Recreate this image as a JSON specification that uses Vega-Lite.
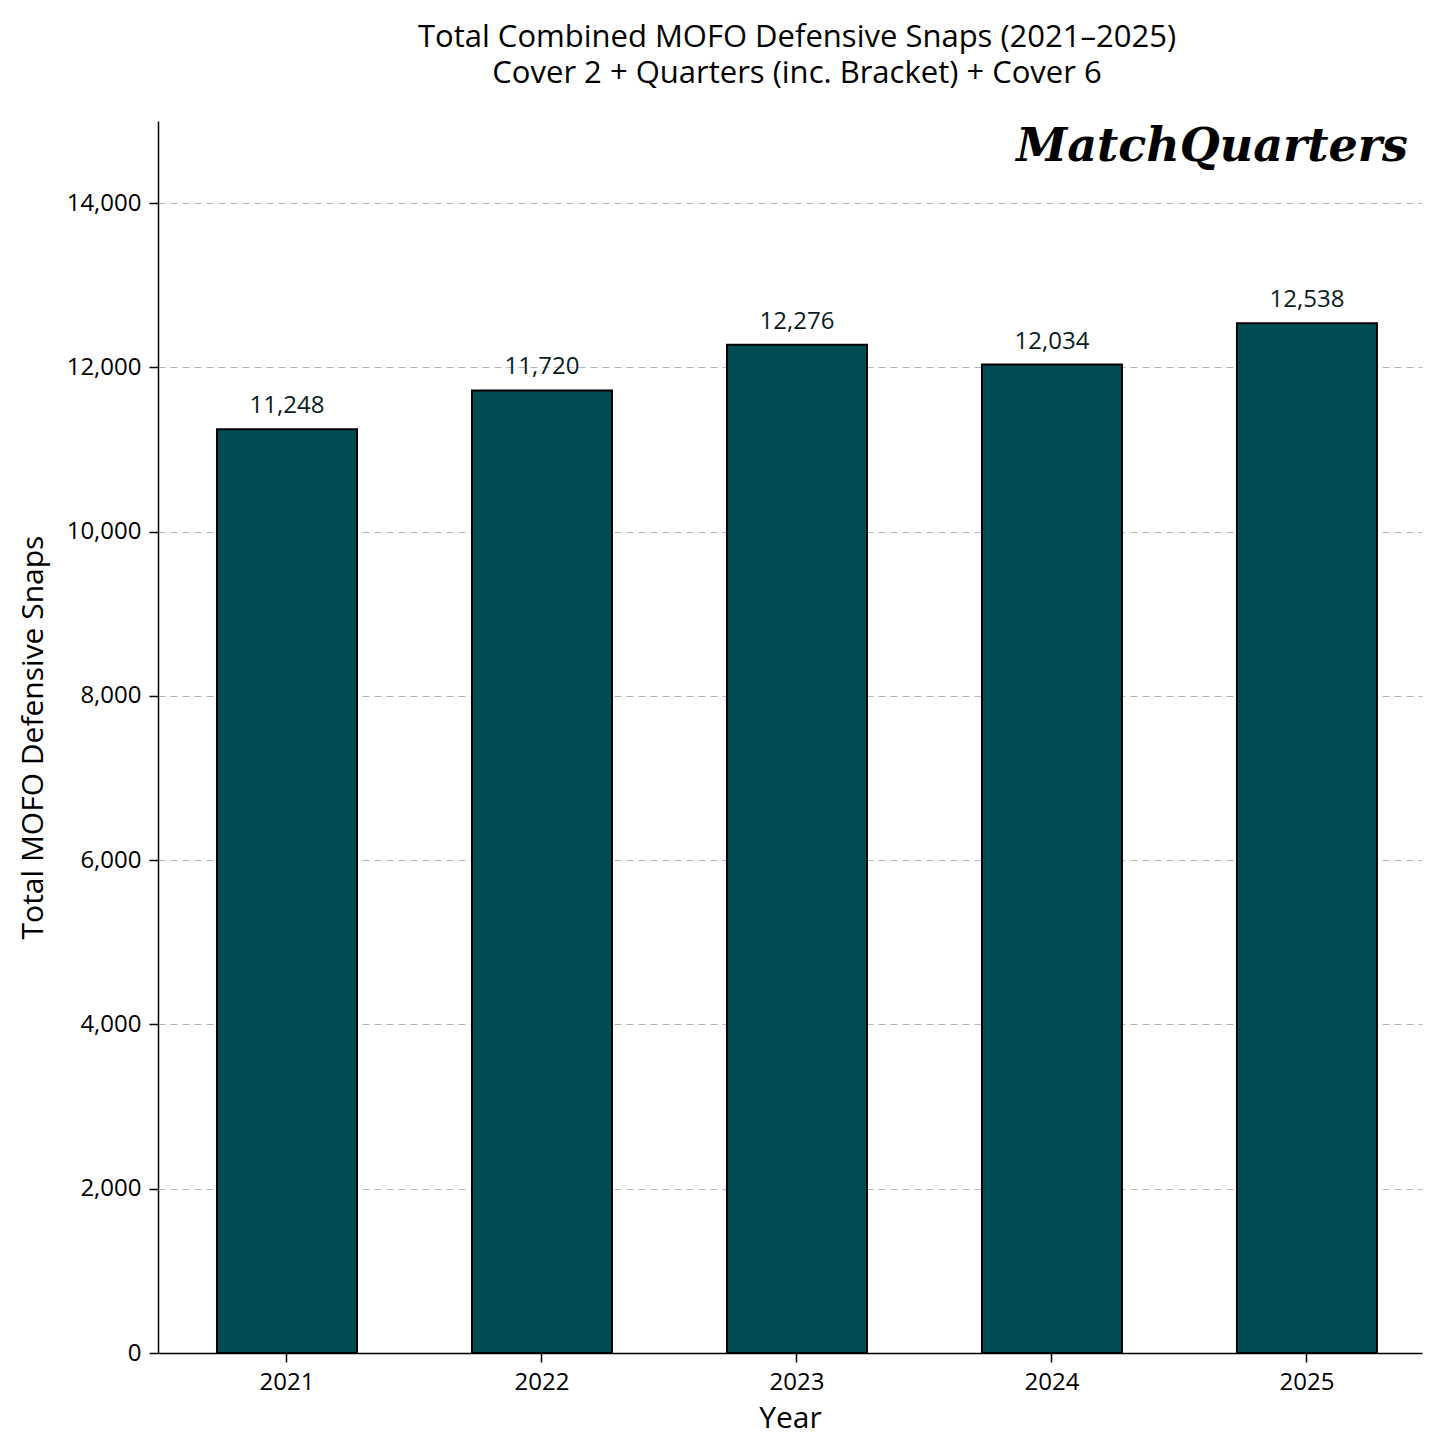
{
  "$schema": "https://vega.github.io/schema/vega-lite/v6.json",
  "autosize": "none",
  "width": 1264,
  "height": 1232,
  "padding": {"left": 158, "top": 121, "right": 34, "bottom": 103},
  "background": "white",
  "title": {
    "text": ["Total Combined MOFO Defensive Snaps (2021–2025)", "Cover 2 + Quarters (inc. Bracket) + Cover 6"],
    "font": "Open Sans",
    "fontSize": 31,
    "fontWeight": "normal",
    "lineHeight": 36,
    "color": "#000000",
    "anchor": "middle",
    "dx": 7,
    "offset": 31
  },
  "data": {
    "values": [
      {"year": "2021", "snaps": 11248},
      {"year": "2022", "snaps": 11720},
      {"year": "2023", "snaps": 12276},
      {"year": "2024", "snaps": 12034},
      {"year": "2025", "snaps": 12538}
    ]
  },
  "encoding": {
    "x": {
      "field": "year",
      "type": "nominal",
      "sort": null,
      "scale": {"paddingInner": 0.451, "paddingOuter": 0.204, "align": 0.567},
      "axis": {
        "title": "Year",
        "labelAngle": 0,
        "grid": false,
        "domainColor": "#000000",
        "domainWidth": 1.5,
        "tickColor": "#000000",
        "tickWidth": 1.5,
        "tickSize": 9,
        "labelPadding": 8,
        "titlePadding": 9
      }
    },
    "y": {
      "field": "snaps",
      "type": "quantitative",
      "scale": {"domain": [0, 15000], "nice": false},
      "axis": {
        "title": "Total MOFO Defensive Snaps",
        "values": [0, 2000, 4000, 6000, 8000, 10000, 12000, 14000],
        "format": ",d",
        "grid": true,
        "gridColor": "#b8b8b8",
        "gridDash": [7, 5],
        "gridWidth": 1.2,
        "domainColor": "#000000",
        "domainWidth": 1.5,
        "tickColor": "#000000",
        "tickWidth": 1.5,
        "tickSize": 9,
        "labelPadding": 8,
        "titlePadding": 18
      }
    }
  },
  "layer": [
    {
      "mark": {"type": "bar", "color": "#004d55", "stroke": "#000000", "strokeWidth": 2}
    },
    {
      "mark": {"type": "text", "baseline": "bottom", "dy": -11, "fontSize": 24, "font": "Open Sans", "color": "#0a1c20"},
      "encoding": {
        "text": {"field": "snaps", "type": "quantitative", "format": ","}
      }
    },
    {
      "data": {"values": [{"label": "MatchQuarters", "year": "2025", "pos": 14510}]},
      "mark": {"type": "text", "align": "right", "baseline": "alphabetic", "dx": 31, "font": "DejaVu Serif", "fontStyle": "italic", "fontWeight": "bold", "fontSize": 46, "color": "#000000"},
      "encoding": {
        "x": {"field": "year", "type": "nominal", "bandPosition": 1},
        "y": {"field": "pos", "type": "quantitative"},
        "text": {"field": "label"}
      }
    }
  ],
  "config": {
    "view": {"stroke": null},
    "axis": {
      "labelFont": "Open Sans",
      "labelFontSize": 24,
      "labelColor": "#000000",
      "titleFont": "Open Sans",
      "titleFontSize": 30,
      "titleFontWeight": "normal",
      "titleColor": "#000000"
    }
  }
}
